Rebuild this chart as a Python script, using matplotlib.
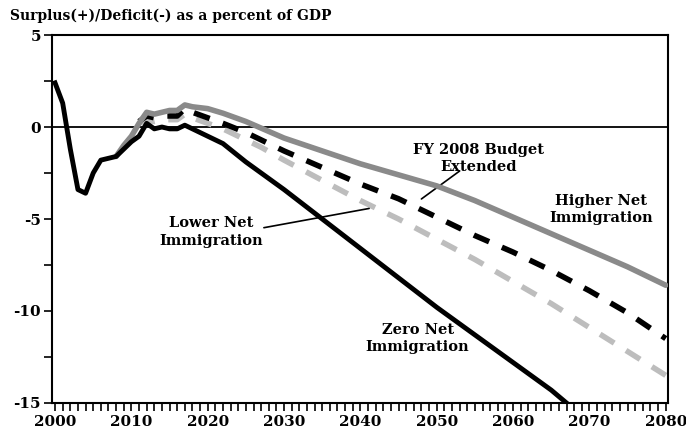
import matplotlib.pyplot as plt
import numpy as np

plt.rcParams['axes.unicode_minus'] = False

# Surplus(+)/Deficit(-) as a percent of GDP
zero_yr = [2000, 2001, 2002, 2003, 2004, 2005, 2006, 2007, 2008, 2009, 2010, 2011,
           2012, 2013, 2014, 2015, 2016, 2017, 2018, 2020, 2022, 2025, 2030, 2035,
           2040, 2045, 2050, 2055, 2060, 2065, 2067]
zero_val = [2.4, 1.3, -1.2, -3.4, -3.6, -2.5, -1.8, -1.7, -1.6, -1.2, -0.8, -0.5,
            0.2, -0.1, 0.0, -0.1, -0.1, 0.1, -0.1, -0.5, -0.9, -1.9, -3.4, -5.0,
            -6.6, -8.2, -9.8, -11.3, -12.8, -14.3, -15.0]

high_yr = [2008, 2009, 2010, 2011, 2012, 2013, 2014, 2015, 2016, 2017, 2018, 2020,
           2022, 2025, 2030, 2035, 2040, 2045, 2050, 2055, 2060, 2065, 2070, 2075, 2080]
high_val = [-1.6, -1.0, -0.5, 0.2, 0.8, 0.7, 0.8, 0.9, 0.9, 1.2, 1.1, 1.0,
            0.75, 0.3, -0.6, -1.3, -2.0, -2.6, -3.2, -4.0, -4.9, -5.8, -6.7, -7.6, -8.6]

base_yr = [2011, 2012, 2013, 2014, 2015, 2016, 2017, 2018, 2020, 2022, 2025, 2027,
           2030, 2035, 2040, 2045, 2050, 2055, 2060, 2065, 2070, 2075, 2080]
base_val = [0.3, 0.6, 0.5, 0.6, 0.6, 0.6, 1.0, 0.8, 0.5, 0.2, -0.3, -0.7,
            -1.3, -2.2, -3.1, -3.9, -4.9, -5.9, -6.8, -7.8, -8.9, -10.1, -11.5]

low_yr = [2011, 2012, 2013, 2014, 2015, 2016, 2017, 2018, 2020, 2022, 2025, 2027,
          2030, 2035, 2040, 2045, 2050, 2055, 2060, 2065, 2070, 2075, 2080]
low_val = [0.2, 0.4, 0.3, 0.4, 0.4, 0.4, 0.7, 0.5, 0.2, -0.1, -0.7, -1.1,
           -1.8, -2.9, -4.0, -5.0, -6.1, -7.2, -8.4, -9.6, -10.9, -12.2, -13.5]

serif = 'DejaVu Serif'
fig = plt.figure(figsize=(6.86, 4.38), dpi=100)
ax = fig.add_axes([0.0758, 0.080, 0.898, 0.840])

ax.axhline(0, color='black', lw=1.3, zorder=1)
ax.plot(low_yr, low_val, color='#bdbdbd', lw=4, dashes=(3, 2.5), zorder=2)
ax.plot(base_yr, base_val, color='black', lw=4, dashes=(3, 2.5), zorder=3)
ax.plot(high_yr, high_val, color='#8a8a8a', lw=4, zorder=4, solid_capstyle='round')
ax.plot(zero_yr, zero_val, color='black', lw=3.5, zorder=5)

ax.set_xlim(1999.6, 2080.3)
ax.set_ylim(-15, 5)
ax.set_xticks(np.arange(2000, 2081, 10))
ax.set_xticks(np.arange(2000, 2081, 1), minor=True)
ax.set_yticks([5, 0, -5, -10, -15])
ax.set_yticks([2.5, -2.5, -7.5, -12.5], minor=True)
ax.tick_params(axis='x', which='major', length=6, width=1.2, labelsize=11, pad=3)
ax.tick_params(axis='x', which='minor', length=6, width=1.2)
ax.tick_params(axis='y', which='both', length=6, width=1.2, labelsize=11, pad=2)
for lab in ax.get_xticklabels() + ax.get_yticklabels():
    lab.set_fontfamily(serif)
    lab.set_fontweight('bold')
for s in ax.spines.values():
    s.set_linewidth(1.5)

fig.text(0.015, 0.965, 'Surplus(+)/Deficit(-) as a percent of GDP', fontsize=10,
         fontweight='bold', family=serif, va='center', ha='left')

tk = dict(fontsize=10.5, fontweight='bold', family=serif, ha='center', va='center',
          linespacing=1.3)
ax.text(2055.5, -1.7, 'FY 2008 Budget\nExtended', **tk)
ax.text(2071.5, -4.5, 'Higher Net\nImmigration', **tk)
ax.text(2020.5, -5.7, 'Lower Net\nImmigration', **tk)
ax.text(2047.5, -11.5, 'Zero Net\nImmigration', **tk)
ax.annotate('', xy=(2047.7, -4.0), xytext=(2053.3, -2.3),
            arrowprops=dict(arrowstyle='-', color='black', lw=1.2))
ax.annotate('', xy=(2041.5, -4.4), xytext=(2027, -5.5),
            arrowprops=dict(arrowstyle='-', color='black', lw=1.2))

fig.savefig('out.png', dpi=100)
